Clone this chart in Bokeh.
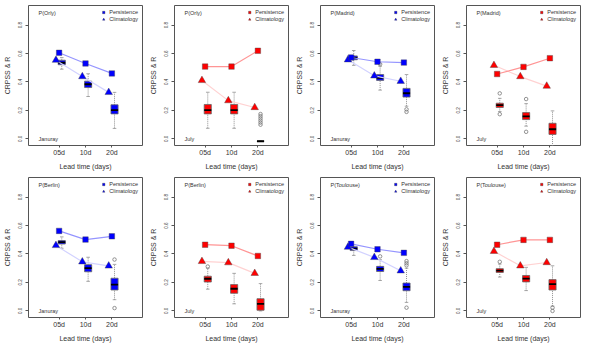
from bokeh.plotting import figure
from bokeh.layouts import gridplot
from bokeh.models import (FixedTicker, NumeralTickFormatter, Range1d, Label,
                          Legend, LegendItem, ColumnDataSource)
from bokeh.embed import file_html
from bokeh.resources import INLINE

# ---------------- data ----------------
LEAD_LABELS = ["05d", "10d", "20d"]
LEAD_POS = [1, 2, 3]
Y_TICKS = [0.0, 0.2, 0.4, 0.6, 0.8]

STATIONS = ["P(Orly)", "P(Orly)", "P(Madrid)", "P(Madrid)",
            "P(Berlin)", "P(Berlin)", "P(Toulouse)", "P(Toulouse)"]
MONTHS = ["Januray", "July", "Januray", "July",
          "Januray", "July", "Januray", "July"]

PERSISTENCE = [
    [0.605, 0.530, 0.460],
    [0.508, 0.508, 0.619],
    [0.572, 0.542, 0.536],
    [0.456, 0.506, 0.567],
    [0.562, 0.501, 0.524],
    [0.465, 0.458, 0.386],
    [0.471, 0.433, 0.408],
    [0.465, 0.499, 0.499],
]
CLIMATOLOGY = [
    [0.553, 0.438, 0.327],
    [0.411, 0.269, 0.221],
    [0.556, 0.443, 0.405],
    [0.517, 0.438, 0.371],
    [0.460, 0.345, 0.316],
    [0.348, 0.339, 0.264],
    [0.448, 0.376, 0.282],
    [0.419, 0.317, 0.340],
]
WHISKER_LO = [
    [0.490, 0.298, 0.074],
    [0.075, 0.075, -0.016],
    [0.517, 0.343, 0.230],
    [0.192, 0.090, -0.050],
    [0.440, 0.208, 0.079],
    [0.153, 0.050, 0.000],
    [0.390, 0.214, 0.060],
    [0.238, 0.143, 0.034],
]
Q1 = [
    [0.521, 0.361, 0.176],
    [0.176, 0.176, -0.016],
    [0.556, 0.411, 0.294],
    [0.221, 0.136, 0.032],
    [0.470, 0.275, 0.147],
    [0.203, 0.124, 0.005],
    [0.424, 0.277, 0.142],
    [0.270, 0.204, 0.147],
]
MEDIAN = [
    [0.535, 0.384, 0.203],
    [0.203, 0.203, -0.016],
    [0.569, 0.429, 0.321],
    [0.237, 0.158, 0.068],
    [0.483, 0.300, 0.185],
    [0.226, 0.156, 0.050],
    [0.437, 0.295, 0.169],
    [0.283, 0.227, 0.188],
]
Q3 = [
    [0.553, 0.406, 0.240],
    [0.242, 0.242, -0.016],
    [0.583, 0.452, 0.355],
    [0.251, 0.185, 0.110],
    [0.494, 0.325, 0.230],
    [0.244, 0.185, 0.086],
    [0.451, 0.313, 0.196],
    [0.297, 0.249, 0.220],
]
WHISKER_HI = [
    [0.571, 0.458, 0.327],
    [0.328, 0.328, -0.016],
    [0.621, 0.510, 0.452],
    [0.285, 0.248, 0.197],
    [0.520, 0.377, 0.327],
    [0.300, 0.264, 0.192],
    [0.466, 0.360, 0.300],
    [0.329, 0.306, 0.317],
]
# outliers: lead index (0,1,2) and value
OUTLIER_LEAD = [
    [],
    [2, 2, 2, 2, 2, 2],
    [1, 2, 2],
    [0, 0, 1, 1],
    [2, 2],
    [0],
    [1, 2, 2, 2, 2],
    [0, 2, 2],
]
OUTLIER_VAL = [
    [],
    [0.175, 0.160, 0.145, 0.130, 0.115, 0.100],
    [0.525, 0.208, 0.190],
    [0.320, 0.174, 0.280, 0.050],
    [0.361, 0.020],
    [0.312],
    [0.383, 0.350, 0.335, 0.320, 0.023],
    [0.345, 0.023, 0.000],
]

MONTH_COLOR = {"Januray": "#0000FF", "July": "#FF0000"}
PERS_LINE = {"Januray": "#9595FF", "July": "#FF9595"}
CLIM_LINE = {"Januray": "#D2D2FF", "July": "#FFD2D2"}

FONT = "Liberation Sans"
BOX_OFF = 0.1
CLIM_OFF = -0.12
BOX_W = 0.27


def make_panel(i):
    month = MONTHS[i]
    col = MONTH_COLOR[month]
    p = figure(width=146, height=172,
               x_range=Range1d(-0.16, 4.16), y_range=Range1d(-0.046, 0.937),
               output_backend="svg", toolbar_location=None,
               min_border_left=28, min_border_right=4,
               min_border_top=5, min_border_bottom=27)
    p.xgrid.visible = False
    p.ygrid.visible = False
    p.outline_line_color = "#555555"
    p.outline_line_width = 1
    p.background_fill_color = "white"

    # axes
    p.xaxis.ticker = FixedTicker(ticks=LEAD_POS)
    p.xaxis.major_label_overrides = {pos: lab for pos, lab in zip(LEAD_POS, LEAD_LABELS)}
    p.yaxis.ticker = FixedTicker(ticks=Y_TICKS)
    p.yaxis.formatter = NumeralTickFormatter(format="0.0")
    p.yaxis.major_label_orientation = "vertical"
    p.xaxis.axis_label = "Lead time (days)"
    p.yaxis.axis_label = "CRPSS & R"
    for ax in (p.xaxis[0], p.yaxis[0]):
        ax.axis_line_color = None
        ax.major_tick_line_color = "#555555"
        ax.minor_tick_line_color = None
        ax.major_tick_in = 0
        ax.major_tick_out = 2
        ax.major_label_text_font = FONT
        ax.axis_label_text_font = FONT
        ax.axis_label_text_font_style = "normal"
        ax.axis_label_text_font_size = "7px"
        ax.axis_label_text_color = "#333333"
        ax.major_label_text_color = "#333333"
    p.xaxis.major_label_text_font_size = "7px"
    p.xaxis.major_label_standoff = 1
    p.xaxis.axis_label_standoff = 4
    p.yaxis.major_label_text_font_size = "4.5px"
    p.yaxis.major_tick_out = 3
    p.yaxis.major_label_standoff = 3
    p.yaxis.axis_label_standoff = 5

    # boxplots
    xb = [x + BOX_OFF for x in LEAD_POS]
    src = ColumnDataSource(dict(
        x=xb, lo=WHISKER_LO[i], q1=Q1[i], med=MEDIAN[i], q3=Q3[i], hi=WHISKER_HI[i],
        xl=[x - BOX_W / 2 for x in xb], xr=[x + BOX_W / 2 for x in xb],
        cl=[x - BOX_W / 4 for x in xb], cr=[x + BOX_W / 4 for x in xb],
    ))
    p.segment(x0="x", y0="lo", x1="x", y1="q1", source=src,
              line_color="#909090", line_dash="1 1", line_width=1)
    p.segment(x0="x", y0="q3", x1="x", y1="hi", source=src,
              line_color="#909090", line_dash="1 1", line_width=1)
    p.segment(x0="cl", y0="lo", x1="cr", y1="lo", source=src,
              line_color="#909090", line_width=0.8)
    p.segment(x0="cl", y0="hi", x1="cr", y1="hi", source=src,
              line_color="#909090", line_width=0.8)
    p.vbar(x="x", width=BOX_W, bottom="q1", top="q3", source=src,
           fill_color=col, line_color="#666666", line_width=0.8)
    p.segment(x0="xl", y0="med", x1="xr", y1="med", source=src,
              line_color="black", line_width=1.8)
    if OUTLIER_VAL[i]:
        p.scatter(x=[LEAD_POS[k] + BOX_OFF for k in OUTLIER_LEAD[i]], y=OUTLIER_VAL[i],
                  marker="circle", size=3.5, fill_color=None,
                  line_color="#777777", line_width=0.8)

    # persistence & climatology
    xc = [x + CLIM_OFF for x in LEAD_POS]
    p.line(x=xc, y=CLIMATOLOGY[i], line_color=CLIM_LINE[month], line_width=1.2)
    p.line(x=LEAD_POS, y=PERSISTENCE[i], line_color=PERS_LINE[month], line_width=1.2)
    r_clim = p.scatter(x=xc, y=CLIMATOLOGY[i], marker="triangle", size=7.5,
                       fill_color=col, line_color="#444444", line_width=0.4)
    r_pers = p.scatter(x=LEAD_POS, y=PERSISTENCE[i], marker="square", size=5.5,
                       fill_color=col, line_color="#444444", line_width=0.4)

    legend = Legend(items=[LegendItem(label="Persistence", renderers=[r_pers]),
                           LegendItem(label="Climatology", renderers=[r_clim])],
                    location="top_right")
    legend.label_text_font = FONT
    legend.label_text_font_size = "5.5px"
    legend.label_text_color = "#333333"
    legend.label_height = 6
    legend.glyph_height = 6
    legend.glyph_width = 6
    legend.label_standoff = 3
    legend.spacing = 1
    legend.padding = 1
    legend.margin = 3
    legend.border_line_alpha = 0
    legend.background_fill_alpha = 0
    p.add_layout(legend)

    p.add_layout(Label(x=0.22, y=0.885, text=STATIONS[i], text_font=FONT,
                       text_font_size="5.5px", text_color="#333333",
                       text_baseline="middle", text_align="left"))
    p.add_layout(Label(x=0.22, y=0.0, text=month, text_font=FONT,
                       text_font_size="5.5px", text_color="#333333",
                       text_baseline="middle", text_align="left"))
    return p


panels = [make_panel(i) for i in range(8)]
grid = gridplot(panels, ncols=4, toolbar_location=None)

open("out.html", "w").write(file_html(grid, INLINE))
